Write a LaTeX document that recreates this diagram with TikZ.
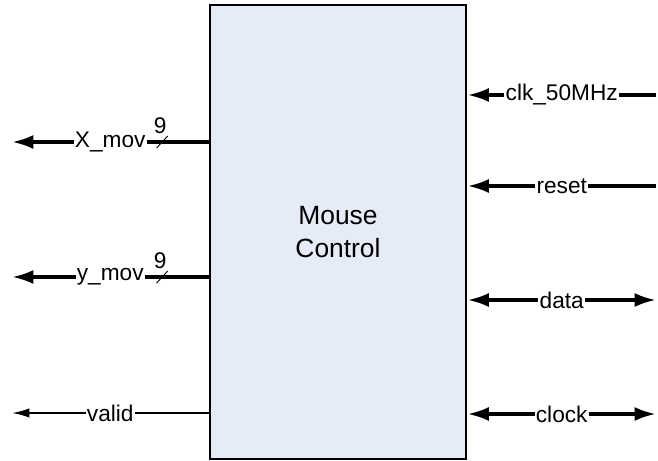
\documentclass[tikz,border=0pt]{standalone}
\usepackage{fontspec}
\setmainfont{Liberation Sans}
\usepackage{xcolor}
\usepackage{tikz}
\usetikzlibrary{arrows.meta,positioning}

\definecolor{mcfill}{HTML}{E6ECF7}

\begin{document}
\begin{tikzpicture}[
  x=0.75pt, y=-0.75pt,
  blk/.style={draw, line width=2.2pt, fill=mcfill, minimum width=192pt, minimum height=340.5pt, align=center, font=\fontsize{19.8}{24.75}\selectfont},
  sig/.style={-{Latex[length=16pt,width=10.5pt]}, line width=2.6pt},
  sigbi/.style={{Latex[length=16pt,width=10.5pt]}-{Latex[length=16pt,width=10.5pt]}, line width=2.6pt},
  sigthin/.style={-{Latex[length=13pt,width=7pt]}, line width=1.3pt},
  lbl/.style={fill=white, inner sep=1pt, font=\fontsize{17}{20}\selectfont},
  bus/.style={line width=0.7pt},
  buslbl/.style={inner sep=0pt, font=\fontsize{17}{20}\selectfont}
]
\useasboundingbox (0,0) rectangle (658,461);
\node[blk] (MC) at (338,232) {Mouse\\Control};
\coordinate (xo) at (12,142);
\coordinate (yo) at (12,277);
\coordinate (vo) at (12,413);
\coordinate (ci) at (656,95);
\coordinate (ri) at (656,186);
\coordinate (di) at (656,300);
\coordinate (ki) at (656,414);
% outputs
\draw[sig] (MC.west |- xo) -- coordinate[pos=0.236] (xs) (xo) node[midway, lbl] {X\_mov};
\draw[sig] (MC.west |- yo) -- coordinate[pos=0.236] (ys) (yo) node[midway, lbl] {y\_mov};
\draw[sigthin] (MC.west |- vo) -- (vo) node[midway, lbl] {valid};
\draw[bus] (xs) +(-5.5,6) -- +(5.5,-6);
\draw[bus] (ys) +(-5.5,6) -- +(5.5,-6);
\node[buslbl] (xn) at ([shift={(-2,-16)}]xs) {9};
\node[buslbl] (yn) at ([shift={(-2,-16)}]ys) {9};
% inputs
\draw[sig] (ci) -- (MC.east |- ci) node[midway, lbl] {clk\_50MHz};
\draw[sig] (ri) -- (MC.east |- ri) node[midway, lbl] {reset};
\draw[sigbi] (di) -- (MC.east |- di) node[midway, lbl] {data};
\draw[sigbi] (ki) -- (MC.east |- ki) node[midway, lbl] {clock};
\end{tikzpicture}
\end{document}
